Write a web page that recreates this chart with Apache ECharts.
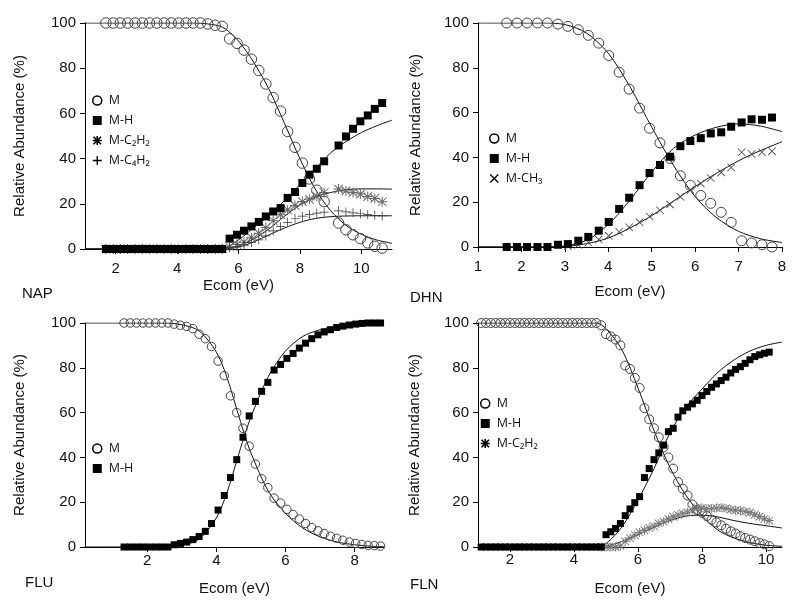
<!DOCTYPE html>
<html>
<head>
<meta charset="utf-8">
<title>Relative abundance vs Ecom</title>
<script src="https://cdn.jsdelivr.net/npm/echarts@6/dist/echarts.min.js"></script>
<style>
html, body { margin: 0; padding: 0; background: #fff; }
#chartBox { width: 800px; height: 616px; }
</style>
</head>
<body>
<div id="chartBox"></div>
<script>
// NAP
const napE = [1.68, 1.92, 2.15, 2.39, 2.63, 2.87, 3.10, 3.34, 3.58, 3.81, 4.05, 4.29, 4.52, 4.76, 5.00, 5.24, 5.47, 5.71, 5.95, 6.18, 6.42, 6.66, 6.89, 7.13, 7.37, 7.60, 7.84, 8.08, 8.31, 8.55, 8.79, 9.02, 9.26, 9.50, 9.73, 9.97, 10.21, 10.44, 10.68]
const napM = [100, 100, 100, 100, 100, 100, 100, 100, 100, 100, 100, 100, 100, 100, 99.6, 99, 98.5, 93, 91, 88, 84, 79, 73, 67, 61, 52, 45, 38, 31, 26, 21, null, 11.5, 8.5, 6.3, 4.6, 2.7, 1.2, 0.4]
const napMH = [0, 0, 0, 0, 0, 0, 0, 0, 0, 0, 0, 0, 0, 0, 0, 0, 0, 4.6, 6.3, 8.1, 10, 12, 14.4, 16.6, 18.1, 22.6, 25.2, 29.2, 32.9, 35.5, 38.8, null, 45.8, 49.8, 53.2, 56.5, 59.1, 62, 64.6]
const napC2H2 = [0, 0, 0, 0, 0, 0, 0, 0, 0, 0, 0, 0, 0, 0, 0, 0, 0, 1, 2, 3, 5, 7, 9.5, 12.5, 15.2, 17.3, 19.3, 21, 22, 23.3, 25, null, 26.5, 25.7, 25, 24.3, 23.2, 22.4, 20.9]
const napC4H2 = [0, 0, 0, 0, 0, 0, 0, 0, 0, 0, 0, 0, 0, 0, 0, 0, 0, 0.5, 1, 1.8, 2.8, 4, 5.8, 8, 10, 11.8, 13.5, 14.5, 15.3, 15.9, 16.3, null, 16.9, 16.4, 16, 15.6, 15.2, 14.9, 14.6]
const napFitE = [1, 4.5, 5, 5.5, 6, 6.5, 7, 7.5, 8, 8.5, 9, 9.5, 10, 10.5, 11]
const napFitM = [100, 100, 99.6, 98, 92, 82.5, 70.5, 55.5, 40, 26.5, 17, 10.5, 6.5, 4, 2.5]
const napFitMH = [0, 0, 0, 0.3, 4, 9.5, 15, 21.5, 28.5, 35.5, 42.5, 47.5, 51.5, 54.5, 57]
const napFitC2H2 = [0, 0, 0, 0.2, 1.5, 4.5, 9, 14.5, 19.5, 23, 25, 26.2, 26.6, 26.6, 26.5]
const napFitC4H2 = [0, 0, 0, 0.1, 0.8, 3.2, 6.3, 9.3, 11.8, 13.5, 14.3, 14.6, 14.7, 14.7, 14.7]

// DHN
const dhnE = [1.66, 1.90, 2.13, 2.37, 2.60, 2.84, 3.07, 3.31, 3.54, 3.78, 4.01, 4.25, 4.48, 4.72, 4.95, 5.19, 5.42, 5.66, 5.89, 6.13, 6.36, 6.60, 6.83, 7.07, 7.30, 7.54, 7.77]
const dhnM = [100, 100, 100, 100, 100, 99.5, 98.5, 97, 94.5, 91, 85.5, 78, 70.5, 62, 53, 46.5, 39.5, 31.8, 27.5, 23, 19.5, 15.5, 11, 2.8, 1.8, 1, 0]
const dhnMH = [0, 0, 0, 0, 0, 1, 1.3, 2.8, 4.5, 7.3, 11.2, 17, 22, 27.6, 33, 36.6, 40.3, 45, 47.3, 48.6, 50.7, 51.2, 53.7, 55.6, 57, 56.8, 57.8]
const dhnCH3 = [null, null, null, null, null, null, 0.5, 1, 2, 3.3, 5, 6.8, 8.8, 11, 13.6, 16.4, 19, 22.4, 25.5, 28.4, 30.8, 33.3, 35.5, 42.3, 41.5, 42.3, 42.8]
const dhnFitE = [1, 2.5, 3, 3.5, 4, 4.5, 5, 5.5, 6, 6.5, 7, 7.5, 8]
const dhnFitM = [100, 100, 99.3, 95.5, 86.5, 71.5, 53.5, 36.5, 22.5, 13, 7, 3.7, 2]
const dhnFitMH = [0, 0, 0.5, 3, 10, 21, 33.5, 44, 50, 53.5, 55, 54, 51.5]
const dhnFitCH3 = [0, 0, 0.2, 1.5, 4, 8.5, 14, 20.5, 27, 33, 38.5, 43, 47]

// FLU
const fluE = [1.33, 1.51, 1.69, 1.87, 2.05, 2.24, 2.42, 2.60, 2.78, 2.96, 3.14, 3.32, 3.50, 3.68, 3.86, 4.05, 4.23, 4.41, 4.59, 4.77, 4.95, 5.13, 5.31, 5.49, 5.67, 5.86, 6.04, 6.22, 6.40, 6.58, 6.76, 6.94, 7.12, 7.30, 7.48, 7.66, 7.85, 8.03, 8.21, 8.39, 8.57, 8.75]
const fluM = [100, 100, 100, 100, 100, 100, 100, 100, 99.5, 99, 98.5, 97.5, 95, 93, 89.5, 83, 76.5, 67.5, 60, 53, 45, 37, 30.5, 26.5, 21.8, 19.6, 16.8, 14.5, 12.5, 10.5, 8.7, 7.2, 6, 4.8, 3.9, 3, 2.2, 1.6, 1.1, 0.7, 0.6, 0.4]
const fluMH = [0, 0, 0, 0, 0, 0, 0, 0, 1, 1.6, 2.2, 3.3, 4.7, 7, 10.5, 16.5, 23, 31, 39, 49, 58.5, 65, 69.5, 73.5, 79, 81.5, 84.2, 86.4, 88.8, 91, 93, 94.7, 96, 97, 98, 98.6, 99.1, 99.5, 99.8, 100, 100, 100]
const fluFitE = [0.2, 2.5, 3, 3.5, 4, 4.3, 4.6, 4.8, 5, 5.5, 6, 6.5, 7, 7.5, 8, 8.5, 8.85]
const fluFitM = [100, 100, 99.2, 96.5, 87, 76, 61, 51, 42, 25, 15, 8.5, 4.5, 2.2, 1, 0.3, 0.1]
const fluFitMH = [0, 0.1, 0.8, 3.5, 13, 24, 39, 49, 58, 76, 87.5, 94, 97, 98.6, 99.4, 99.8, 100]

// FLN
const flnE = [1.10, 1.25, 1.40, 1.55, 1.70, 1.85, 2.00, 2.15, 2.30, 2.45, 2.60, 2.75, 2.90, 3.05, 3.20, 3.35, 3.50, 3.65, 3.80, 3.95, 4.10, 4.25, 4.40, 4.55, 4.70, 4.85, 5.00, 5.15, 5.30, 5.45, 5.60, 5.75, 5.90, 6.05, 6.20, 6.35, 6.50, 6.65, 6.80, 6.95, 7.10, 7.25, 7.40, 7.55, 7.70, 7.85, 8.00, 8.15, 8.30, 8.45, 8.60, 8.75, 8.90, 9.05, 9.20, 9.35, 9.50, 9.65, 9.80, 9.95, 10.10]
const flnM = [100, 100, 100, 100, 100, 100, 100, 100, 100, 100, 100, 100, 100, 100, 100, 100, 100, 100, 100, 100, 100, 100, 100, 100, 100, 99, 95, 94, 92.6, 90, 81, 79.5, 75.5, 71, 62, 57, 53, 49, 44.5, 40, 35, 29, 26, 23, 19, 16.5, 15.3, 13.8, 12.2, 11, 9.7, 8.2, 7, 6, 4.8, 4, 3.3, 2.6, 1.8, 1.2, 0.4]
const flnMH = [0, 0, 0, 0, 0, 0, 0, 0, 0, 0, 0, 0, 0, 0, 0, 0, 0, 0, 0, 0, 0, 0, 0, 0, 0, 0, 5.5, 6.8, 8.3, 10.5, 14, 17, 19.8, 22.5, 31, 35, 39, 42, 45.5, 51.5, 53, 58, 60.8, 62.4, 63.9, 65.5, 67.6, 69.4, 71.3, 72.8, 74.3, 75.8, 77.7, 79.3, 80.5, 82, 83.6, 85, 85.8, 86.5, 87]
const flnC2H2 = [null, null, null, null, null, null, null, null, null, null, null, null, null, null, null, null, null, null, null, null, null, null, null, null, null, 0, 0, 0, 0, 0.5, 2.5, 4, 5.3, 6.5, 7.5, 8.5, 9.3, 10.5, 11.3, 12.5, 13.5, 14.3, 15, 15.5, 16.5, 17.5, 17.5, 17.1, 17.2, 17.4, 17.6, 17.2, 16.7, 16.4, 16.2, 15.8, 15.4, 14.4, 13.6, 12.6, 11.8]
const flnFitE = [1, 4.7, 5, 5.5, 6, 6.5, 7, 7.5, 8, 8.5, 9, 9.5, 10, 10.5]
const flnFitM = [100, 100, 97.5, 88, 71, 52, 35.5, 23, 14, 7.5, 4, 2, 0.8, 0.3]
const flnFitMH = [0, 0, 1.5, 9, 21, 35, 51, 62.5, 70.5, 78, 83.5, 87.5, 90, 91.5]
const flnFitC2H2 = [0, 0, 0.3, 2.5, 5.5, 8.8, 11.8, 13.8, 14.2, 13.4, 11.8, 10.5, 9.5, 8.5]

// tick labels
const napTicks = [2, 4, 6, 8, 10]
const dhnTicks = [1, 2, 3, 4, 5, 6, 7, 8]
const fluTicks = [2, 4, 6, 8]
const flnTicks = [2, 4, 6, 8, 10]

const axisFont = 'Liberation Sans, Arial, sans-serif'
const legendFont = '"Open Sans", "Noto Sans", "DejaVu Sans", sans-serif'

// symbols
const asterisk = 'path://M0,9L20,9L20,11L0,11Z M9,0L11,0L11,20L9,20Z M2.2,0.8L19.2,17.8L17.8,19.2L0.8,2.2Z M17.8,0.8L19.2,2.2L2.2,19.2L0.8,17.8Z'
const asteriskBold = 'path://M0,8.2L20,8.2L20,11.8L0,11.8Z M8.2,0L11.8,0L11.8,20L8.2,20Z M2.9,0.4L19.6,17.1L17.1,19.6L0.4,2.9Z M17.1,0.4L19.6,2.9L2.9,19.6L0.4,17.1Z'
const plus = 'path://M0,9.2L20,9.2L20,10.8L0,10.8Z M9.2,0L10.8,0L10.8,20L9.2,20Z'
const plusBold = 'path://M0,8.5L20,8.5L20,11.5L0,11.5Z M8.5,0L11.5,0L11.5,20L8.5,20Z'
const cross = 'path://M1.8,0.4L19.6,18.2L18.2,19.6L0.4,1.8Z M18.2,0.4L19.6,1.8L1.8,19.6L0.4,18.2Z'
const crossBold = 'path://M2.2,0L20,17.8L17.8,20L0,2.2Z M17.8,0L20,2.2L2.2,20L0,17.8Z'

const circleStyle = { color: 'rgba(0,0,0,0)', borderColor: '#444', borderWidth: 1, opacity: 1 }

function pts (xs, ys) {
  const out = []
  xs.forEach((x, i) => {
    if (ys[i] !== null) out.push([x, ys[i]])
  })
  return out
}

function dots (name, idx, xs, ys, symbol, size, style) {
  return {
    type: 'scatter', name: name, xAxisIndex: idx, yAxisIndex: idx,
    data: pts(xs, ys), symbol: symbol, symbolSize: size,
    itemStyle: Object.assign({ opacity: 1 }, style), z: 3
  }
}

function fit (idx, xs, ys) {
  return {
    type: 'line', name: 'fit', xAxisIndex: idx, yAxisIndex: idx,
    data: pts(xs, ys), showSymbol: false, smooth: 0.3,
    lineStyle: { color: '#111', width: 1 }, z: 2
  }
}

function xAxis (idx, min, max, ticks, margin, gap) {
  return {
    gridIndex: idx, type: 'value', min: min, max: max,
    name: 'Ecom (eV)', nameLocation: 'middle', nameGap: gap,
    nameTextStyle: { fontSize: 15, color: '#111', fontFamily: axisFont },
    axisLine: { show: true, onZero: false, lineStyle: { color: '#000', width: 1 } },
    axisTick: { show: true, length: 5, customValues: ticks, lineStyle: { color: '#000' } },
    axisLabel: { customValues: ticks, margin: margin, fontSize: 15, color: '#111', fontFamily: axisFont },
    splitLine: { show: false }
  }
}

function yAxis (idx, gap) {
  return {
    gridIndex: idx, type: 'value', min: 0, max: 100, interval: 20,
    name: 'Relative Abundance (%)', nameLocation: 'middle', nameGap: gap,
    nameTextStyle: { fontSize: 15, color: '#111', fontFamily: axisFont },
    axisLine: { show: true, onZero: false, lineStyle: { color: '#000', width: 1 } },
    axisTick: { show: true, length: 5, lineStyle: { color: '#000' } },
    axisLabel: { margin: 9, fontSize: 15, color: '#111', fontFamily: axisFont },
    splitLine: { show: false }
  }
}

function legend (left, top, items) {
  return {
    orient: 'vertical', left: left, top: top, itemWidth: 9, itemHeight: 9, itemGap: 7,
    selectedMode: false, padding: 0,
    textStyle: { fontSize: 12.5, color: '#111', fontFamily: legendFont, lineHeight: 12, padding: [0, 0, 0, 2] },
    data: items
  }
}

const lgM = { name: 'M', icon: 'circle', itemStyle: { color: '#fff', borderColor: '#000', borderWidth: 1.5, opacity: 1 } }
const lgMH = { name: 'M-H', icon: 'rect', itemStyle: { color: '#000', borderWidth: 0, opacity: 1 } }
const lgC2H2 = { name: 'M-C₂H₂', icon: asteriskBold, itemStyle: { color: '#000', borderWidth: 0, opacity: 1 } }
const lgC4H2 = { name: 'M-C₄H₂', icon: plusBold, itemStyle: { color: '#000', borderWidth: 0, opacity: 1 } }
const lgCH3 = { name: 'M-CH₃', icon: crossBold, itemStyle: { color: '#000', borderWidth: 0, opacity: 1 } }

function tag (text, left, top) {
  return { type: 'text', left: left, top: top, style: { text: text, fontSize: 15, fontFamily: axisFont, fill: '#111' } }
}

const myChart = echarts.init(document.getElementById('chartBox'), null, { renderer: 'canvas' })
myChart.setOption({
  animation: false,
  backgroundColor: '#fff',
  grid: [
    { left: 85, top: 23, width: 307, height: 226 },
    { left: 478, top: 23, width: 304, height: 224 },
    { left: 85, top: 323, width: 299, height: 224 },
    { left: 478, top: 323, width: 304, height: 224 }
  ],
  xAxis: [
    xAxis(0, 1, 11, napTicks, 12, 29),
    xAxis(1, 1, 8, dhnTicks, 12, 37),
    xAxis(2, 0.2, 8.85, fluTicks, 6, 34),
    xAxis(3, 1, 10.5, flnTicks, 5, 34)
  ],
  yAxis: [yAxis(0, 58), yAxis(1, 55), yAxis(2, 58), yAxis(3, 56)],
  legend: [
    legend(92, 94, [lgM, lgMH, lgC2H2, lgC4H2]),
    legend(489, 132, [lgM, lgMH, lgCH3]),
    legend(92, 442, [lgM, lgMH]),
    legend(480, 397, [lgM, lgMH, lgC2H2])
  ],
  graphic: [
    tag('NAP', 22, 286),
    tag('DHN', 410, 290),
    tag('FLU', 25, 575),
    tag('FLN', 410, 577)
  ],
  series: [
    fit(0, napFitE, napFitM),
    fit(0, napFitE, napFitMH),
    fit(0, napFitE, napFitC2H2),
    fit(0, napFitE, napFitC4H2),
    dots('M', 0, napE, napM, 'circle', 10.5, circleStyle),
    dots('M-C₂H₂', 0, napE, napC2H2, asterisk, 10, { color: '#666' }),
    dots('M-C₄H₂', 0, napE, napC4H2, plus, 9, { color: '#333' }),
    dots('M-H', 0, napE, napMH, 'rect', 8, { color: '#000' }),

    fit(1, dhnFitE, dhnFitM),
    fit(1, dhnFitE, dhnFitMH),
    fit(1, dhnFitE, dhnFitCH3),
    dots('M', 1, dhnE, dhnM, 'circle', 10, circleStyle),
    dots('M-CH₃', 1, dhnE, dhnCH3, cross, 8, { color: '#444' }),
    dots('M-H', 1, dhnE, dhnMH, 'rect', 8, { color: '#000' }),

    fit(2, fluFitE, fluFitM),
    fit(2, fluFitE, fluFitMH),
    dots('M', 2, fluE, fluM, 'circle', 8.5, circleStyle),
    dots('M-H', 2, fluE, fluMH, 'rect', 7, { color: '#000' }),

    fit(3, flnFitE, flnFitM),
    fit(3, flnFitE, flnFitMH),
    fit(3, flnFitE, flnFitC2H2),
    dots('M', 3, flnE, flnM, 'circle', 9, circleStyle),
    dots('M-C₂H₂', 3, flnE, flnC2H2, asterisk, 9, { color: '#777' }),
    dots('M-H', 3, flnE, flnMH, 'rect', 7, { color: '#000' })
  ]
})
</script>
</body>
</html>
